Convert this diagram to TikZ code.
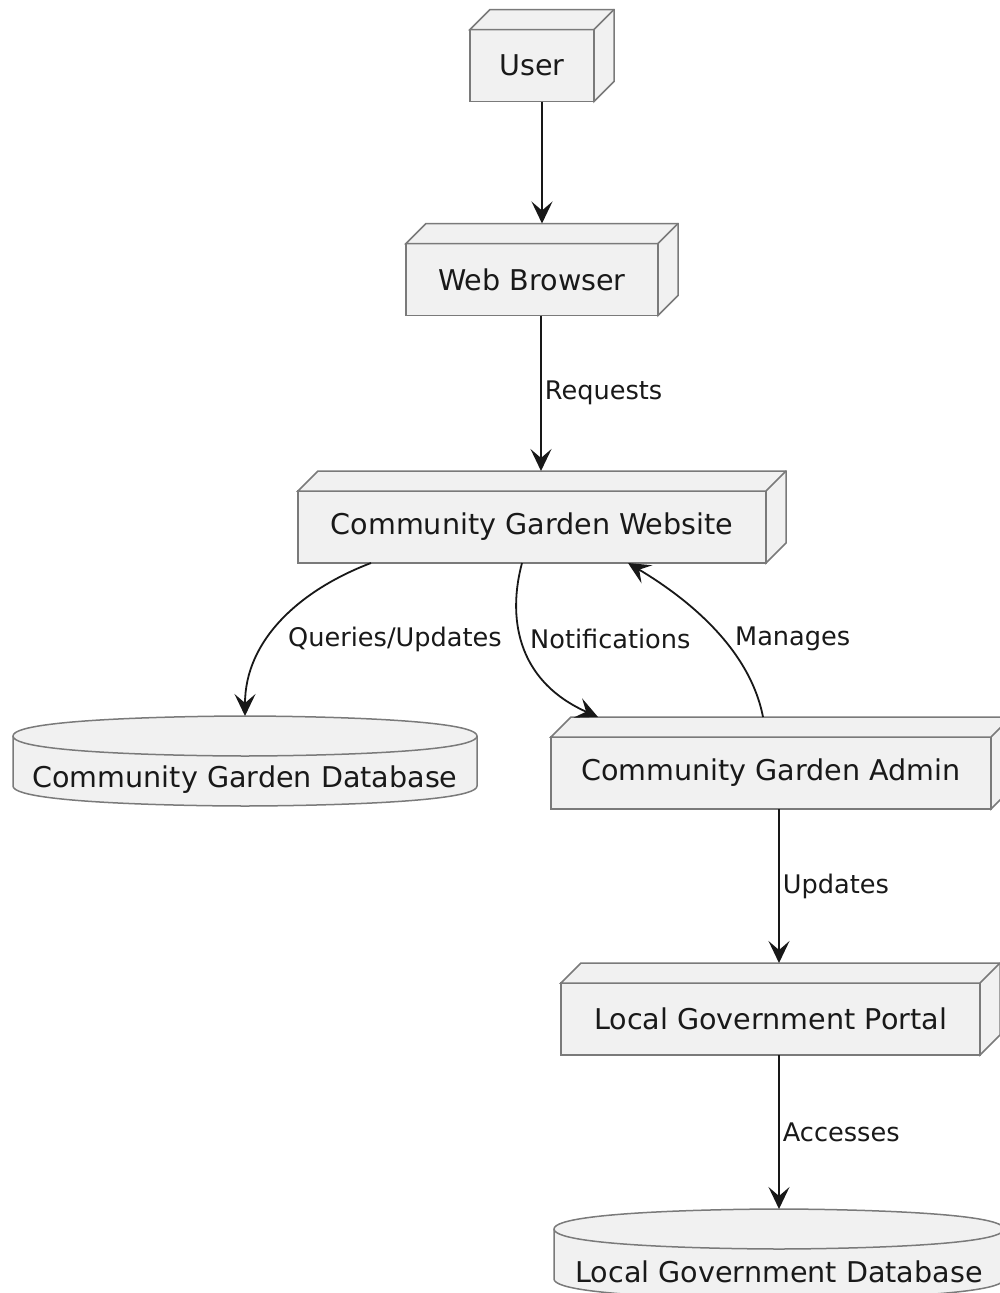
\documentclass[tikz,border=0pt]{standalone}
\usepackage{fontspec}
\setmainfont{DejaVu Sans}
\usetikzlibrary{arrows.meta,calc}
\definecolor{boxfill}{HTML}{F1F1F1}
\definecolor{boxline}{HTML}{7A7A7A}
\definecolor{arrline}{HTML}{181818}
\tikzset{
  box/.style={draw=boxline, fill=boxfill, line width=1.5pt, outer sep=0pt, inner sep=0pt,
    font=\fontsize{28.6}{34}\selectfont, text=black!90},
  dbshape/.style={draw=none, fill=none, outer sep=0pt, inner sep=0pt},
  dbtext/.style={font=\fontsize{28.6}{34}\selectfont, text=black!90, inner sep=0pt},
  face/.style={draw=boxline, fill=boxfill, line width=1.5pt, line join=miter},
  arr/.style={draw=arrline, line width=1.8pt, -{Stealth[length=22pt,width=21pt,inset=9pt]}},
  lbl/.style={font=\fontsize{25.6}{30}\selectfont, text=black!90, inner sep=0pt, anchor=west},
}
\newcommand\threedbox[1]{%
  \filldraw[face] (#1.north west) -- ++(20pt,20pt) -- ([shift={(20pt,20pt)}]#1.north east)
    -- ([shift={(20pt,20pt)}]#1.south east) -- (#1.south east) -- (#1.north east) -- cycle;
  \draw[face, fill=none] (#1.north east) -- ++(20pt,20pt);}
\newcommand\dbcyl[1]{%
  \filldraw[face] ([yshift=-20pt]#1.north west) .. controls (#1.north west) and (#1.north) .. (#1.north)
    .. controls (#1.north) and (#1.north east) .. ([yshift=-20pt]#1.north east)
    -- ([yshift=20pt]#1.south east) .. controls (#1.south east) and (#1.south) .. (#1.south)
    .. controls (#1.south) and (#1.south west) .. ([yshift=20pt]#1.south west) -- cycle;
  \draw[face, fill=none] ([yshift=-20pt]#1.north west) .. controls ([yshift=-40pt]#1.north west) and ([yshift=-40pt]#1.north) .. ([yshift=-40pt]#1.north)
    .. controls ([yshift=-40pt]#1.north) and ([yshift=-40pt]#1.north east) .. ([yshift=-20pt]#1.north east);}
\begin{document}
\begin{tikzpicture}[x=1pt,y=-1pt]
\useasboundingbox (0,0) rectangle (1000,1293);
\clip (0,0) rectangle (1000,1293);
\fill[white] (0,0) rectangle (1000,1293);

% nodes
\node[box, minimum width=124pt, minimum height=72pt] (user) at (532,65.5) {User};
\threedbox{user}
\node[box, minimum width=252pt, minimum height=72pt] (browser) at (532,279.5) {Web Browser};
\threedbox{browser}
\node[box, minimum width=468pt, minimum height=72pt] (website) at (532,527) {Community Garden Website};
\threedbox{website}
\node[box, minimum width=440pt, minimum height=72pt] (admin) at (771,773) {Community Garden Admin};
\threedbox{admin}
\node[box, minimum width=419pt, minimum height=72pt] (lgp) at (770.5,1019) {Local Government Portal};
\threedbox{lgp}

\node[dbshape, minimum width=464pt, minimum height=90pt] (cgd) at (245,761) {};
\dbcyl{cgd}
\node[dbtext] (cgdtext) at (245,780) {Community Garden Database};
\node[dbshape, minimum width=450pt, minimum height=90pt] (lgd) at (779,1254) {};
\dbcyl{lgd}
\node[dbtext] (lgdtext) at (779,1272) {Local Government Database};

% connectors
\draw[arr] ([xshift=10pt]user.south) -- ([shift={(10pt,20pt)}]browser.north);
\draw[arr] ([xshift=9pt]browser.south) -- node[lbl, midway, xshift=3pt] {Requests} ([shift={(9pt,20pt)}]website.north);
\draw[arr] ([xshift=73pt]website.south west) .. controls (300,590) and (245,640) .. (cgd.north);
\draw[arr] ([xshift=-10pt]website.south) .. controls (508,615) and (515,680) .. ([shift={(47pt,20pt)}]admin.north west);
\draw[arr] ([shift={(-8pt,20pt)}]admin.north) .. controls (750,650) and (690,600) .. ([xshift=96pt]website.south);
\draw[arr] ([xshift=8pt]admin.south) -- node[lbl, midway, xshift=3pt] {Updates} ([shift={(8.5pt,20pt)}]lgp.north);
\draw[arr] ([xshift=8.5pt]lgp.south) -- node[lbl, midway, xshift=3pt] {Accesses} (lgd.north);

\node[lbl] (lqu) at (288,639) {Queries/Updates};
\node[lbl] (lnot) at (530,639) {Notifications};
\node[lbl] (lman) at (735,639) {Manages};
\end{tikzpicture}
\end{document}
